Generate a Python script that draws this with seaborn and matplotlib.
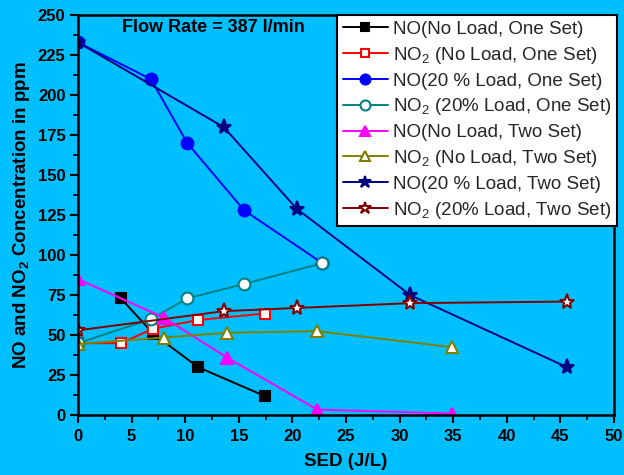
import matplotlib
matplotlib.use("Agg")
import matplotlib.pyplot as plt
import seaborn as sns
import pandas as pd

# ---- data ----
x_no_noload_one = [4, 7, 11.2, 17.4]
y_no_noload_one = [73, 51, 30, 12]

x_no2_noload_one = [0, 4, 7, 11.2, 17.4]
y_no2_noload_one = [45, 45, 54, 59.5, 63.5]

x_no_20_one = [0, 6.8, 10.2, 15.5, 22.8]
y_no_20_one = [233, 210, 170, 128, 95]

x_no2_20_one = [0, 6.8, 10.2, 15.5, 22.8]
y_no2_20_one = [45, 60, 73, 82, 95]

x_no_noload_two = [0, 8, 13.9, 22.3, 34.9]
y_no_noload_two = [85, 61, 36, 3.5, 1]

x_no2_noload_two = [0, 8, 13.9, 22.3, 34.9]
y_no2_noload_two = [44.5, 48.5, 51.5, 52.5, 42.5]

x_no_20_two = [0, 13.6, 20.4, 31, 45.6]
y_no_20_two = [233, 180, 129, 75, 30]

x_no2_20_two = [0, 13.6, 20.4, 31, 45.6]
y_no2_20_two = [53, 65, 67, 70, 71]

labels = [
    "NO(No Load, One Set)",
    "NO$_2$ (No Load, One Set)",
    "NO(20 % Load, One Set)",
    "NO$_2$ (20% Load, One Set)",
    "NO(No Load, Two Set)",
    "NO$_2$ (No Load, Two Set)",
    "NO(20 % Load, Two Set)",
    "NO$_2$ (20% Load, Two Set)",
]
xs = [x_no_noload_one, x_no2_noload_one, x_no_20_one, x_no2_20_one,
      x_no_noload_two, x_no2_noload_two, x_no_20_two, x_no2_20_two]
ys = [y_no_noload_one, y_no2_noload_one, y_no_20_one, y_no2_20_one,
      y_no_noload_two, y_no2_noload_two, y_no_20_two, y_no2_20_two]

colors = ["#000000", "#FF0000", "#0000FF", "#008080",
          "#FF00FF", "#808000", "#000080", "#800000"]
markers = ["s", "s", "o", "o", "^", "^", "*", "*"]
filled = [True, False, True, False, True, False, True, False]
msizes = [7.5, 7.5, 8.5, 8.5, 9, 9, 11, 11]

bg = "#00BFFF"
sns.set_theme(style="ticks")
plt.rcParams["font.family"] = ["Liberation Sans", "DejaVu Sans"]
plt.rcParams["mathtext.fontset"] = "custom"
plt.rcParams["mathtext.rm"] = "Liberation Sans"
plt.rcParams["mathtext.bf"] = "Liberation Sans:bold"

fig = plt.figure(figsize=(6.24, 4.75), dpi=100, facecolor=bg)
ax = fig.add_axes([0.125, 0.126, 0.859, 0.842])
ax.set_facecolor(bg)

for lab, x, y, c, m, f, ms in zip(labels, xs, ys, colors, markers, filled, msizes):
    df = pd.DataFrame({"x": x, "y": y})
    sns.lineplot(data=df, x="x", y="y", ax=ax, color=c, marker=m,
                 markersize=ms, markerfacecolor=(c if f else "white"),
                 markeredgecolor=c, markeredgewidth=1.5, linewidth=1.4,
                 label=lab, estimator=None, sort=False)

ax.set_xlim(0, 50)
ax.set_ylim(0, 250)
ax.set_xticks(range(0, 51, 5))
ax.set_yticks(range(0, 251, 25))
ax.set_xticks([i * 2.5 for i in range(21)], minor=True)
ax.set_yticks([i * 12.5 for i in range(21)], minor=True)
ax.tick_params(axis="both", which="major", direction="out", length=6, width=1.5,
               labelsize=12, color="black", labelcolor="black", pad=3)
ax.tick_params(axis="both", which="minor", direction="out", length=3.5, width=1.2,
               color="black")
ax.tick_params(axis="x", which="major", pad=4)
ax.tick_params(top=False, right=False, which="both")
for lbl in ax.get_xticklabels() + ax.get_yticklabels():
    lbl.set_fontweight("bold")
for sp in ax.spines.values():
    sp.set_visible(True)
    sp.set_color("black")
    sp.set_linewidth(1.8)

ax.set_xlabel("SED (J/L)", fontsize=13.5, fontweight="bold", color="black", labelpad=6.5)
ax.set_ylabel("NO and NO$_\\mathbf{2}$ Concentration in ppm", fontsize=13.5,
              fontweight="bold", color="black", labelpad=4)

ax.text(0.252, 0.97, "Flow Rate = 387 l/min", transform=ax.transAxes,
        ha="center", va="center", fontsize=13, fontweight="bold", color="black")

leg = ax.legend(loc="upper right", bbox_to_anchor=(1.005, 1.0), fontsize=13.5,
                frameon=True, fancybox=False, framealpha=1, edgecolor="black",
                handlelength=2.4, labelspacing=0.36, borderpad=0.3,
                handletextpad=0.25, borderaxespad=0, markerscale=0.85)
leg.get_frame().set_linewidth(1.5)

fig.savefig("out.png", dpi=100, facecolor=bg)
